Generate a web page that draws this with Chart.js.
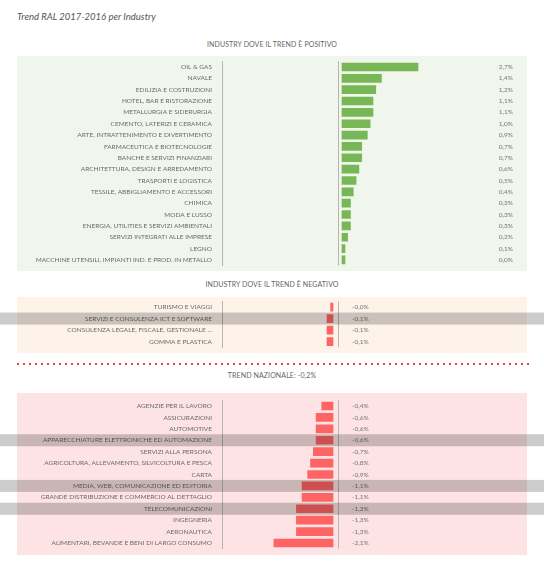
<!DOCTYPE html>
<html>
<head>
<meta charset="utf-8">
<script src="https://cdn.jsdelivr.net/npm/chart.js@4.4.1/dist/chart.umd.min.js"></script>
<style>
  html, body { margin:0; padding:0; background:#fff; }
  body { width:544px; height:574px; position:relative; overflow:hidden; font-family: Lato, "DejaVu Sans", sans-serif; }
  .abs { position:absolute; }
  #title { left:17px; top:11px; font-size:9.5px; font-style:italic; color:#555; }
  .hdr { left:0; width:544px; text-align:center; font-size:7px; color:#666; letter-spacing:0.1px; }
  #dots { left:17px; top:363px; width:512px; height:2px;
          background: repeating-linear-gradient(to right, #e8403c 0 2px, transparent 2px 6px); }
  canvas { position:absolute; left:0; }
</style>
</head>
<body>
<div id="title" class="abs">Trend RAL 2017-2016 per Industry</div>
<div class="abs hdr" style="top:40px">INDUSTRY DOVE IL TREND È POSITIVO</div>
<div class="abs hdr" style="top:280px">INDUSTRY DOVE IL TREND È NEGATIVO</div>
<div id="dots" class="abs"></div>
<div class="abs hdr" style="top:371px">TREND NAZIONALE: -0,2%</div>

<div class="abs" style="left:0;top:56px;width:544px;height:215px"><canvas id="c1"></canvas></div>
<div class="abs" style="left:0;top:297px;width:544px;height:56px"><canvas id="c2"></canvas></div>
<div class="abs" style="left:0;top:393px;width:544px;height:162px"><canvas id="c3"></canvas></div>

<script>
// ---------- DATA ----------
const positiveCategories = [
  "OIL & GAS", "NAVALE", "EDILIZIA E COSTRUZIONI", "HOTEL, BAR E RISTORAZIONE",
  "METALLURGIA E SIDERURGIA", "CEMENTO, LATERIZI E CERAMICA", "ARTE, INTRATTENIMENTO E DIVERTIMENTO",
  "FARMACEUTICA E BIOTECNOLOGIE", "BANCHE E SERVIZI FINANZIARI", "ARCHITETTURA, DESIGN E ARREDAMENTO",
  "TRASPORTI E LOGISTICA", "TESSILE, ABBIGLIAMENTO E ACCESSORI", "CHIMICA", "MODA E LUSSO",
  "ENERGIA, UTILITIES E SERVIZI AMBIENTALI", "SERVIZI INTEGRATI ALLE IMPRESE", "LEGNO",
  "MACCHINE UTENSILI, IMPIANTI IND. E PROD. IN METALLO"
];
const positiveValues = [2.7, 1.4, 1.2, 1.1, 1.1, 1.0, 0.9, 0.7, 0.7, 0.6, 0.5, 0.4, 0.3, 0.3, 0.3, 0.2, 0.1, 0.04];

const slightNegativeCategories = [
  "TURISMO E VIAGGI", "SERVIZI E CONSULENZA ICT E SOFTWARE",
  "CONSULENZA LEGALE, FISCALE, GESTIONALE ...", "GOMMA E PLASTICA"
];
const slightNegativeValues = [-0.04, -0.1, -0.1, -0.1];

const negativeCategories = [
  "AGENZIE PER IL LAVORO", "ASSICURAZIONI", "AUTOMOTIVE", "APPARECCHIATURE ELETTRONICHE ED AUTOMAZIONE",
  "SERVIZI ALLA PERSONA", "AGRICOLTURA, ALLEVAMENTO, SILVICOLTURA E PESCA", "CARTA",
  "MEDIA, WEB, COMUNICAZIONE ED EDITORIA", "GRANDE DISTRIBUZIONE E COMMERCIO AL DETTAGLIO",
  "TELECOMUNICAZIONI", "INGEGNERIA", "AERONAUTICA", "ALIMENTARI, BEVANDE E BENI DI LARGO CONSUMO"
];
const negativeValues = [-0.4, -0.6, -0.6, -0.6, -0.7, -0.8, -0.9, -1.1, -1.1, -1.3, -1.3, -1.3, -2.1];

const highlighted = [
  "SERVIZI E CONSULENZA ICT E SOFTWARE", "APPARECCHIATURE ELETTRONICHE ED AUTOMAZIONE",
  "MEDIA, WEB, COMUNICAZIONE ED EDITORIA", "TELECOMUNICAZIONI"
];

// ---------- helpers ----------
const FONT = "Lato, 'DejaVu Sans', sans-serif";
const fmt = v => v.toFixed(1).replace('.', ',') + '%';

const panelPlugin = {
  id: 'panel',
  beforeDraw(chart, args, opts) {
    const ctx = chart.ctx;
    ctx.save();
    ctx.fillStyle = opts.color;
    ctx.fillRect(17, 0, 510, chart.height);
    ctx.restore();
  }
};
const decoPlugin = {
  id: 'deco',
  afterDatasetsDraw(chart, args, opts) {
    const ctx = chart.ctx, ca = chart.chartArea;
    const xs = chart.scales.x, ys = chart.scales.y;
    ctx.save();
    const lx = Math.round(xs.getPixelForValue(0) + opts.lineOffset) + 0.5;
    ctx.strokeStyle = '#b5b5b5';
    ctx.lineWidth = 1;
    ctx.beginPath(); ctx.moveTo(lx, ca.top); ctx.lineTo(lx, ca.bottom); ctx.stroke();
    ctx.font = "6.5px " + FONT;
    ctx.fillStyle = '#777';
    ctx.textBaseline = 'middle';
    ctx.textAlign = opts.align;
    chart.data.datasets[0].data.forEach((v, i) => {
      ctx.fillText(fmt(v), opts.textX, ys.getPixelForValue(i));
    });
    ctx.restore();
  },
  afterDraw(chart) {
    const ctx = chart.ctx, ys = chart.scales.y;
    ctx.save();
    ctx.fillStyle = 'rgba(0,0,0,0.2)';
    chart.data.labels.forEach((l, i) => {
      if (highlighted.includes(l)) {
        const y = ys.getPixelForValue(i);
        ctx.fillRect(0, y - 6, chart.width, 12);
      }
    });
    ctx.restore();
  }
};

function makeChart(id, labels, values, cfg) {
  return new Chart(document.getElementById(id), {
    type: 'bar',
    data: { labels, datasets: [{ data: values, backgroundColor: cfg.barColor, barThickness: 8, minBarLength: cfg.minBar || 0, borderWidth: 0 }] },
    plugins: [panelPlugin, decoPlugin],
    options: {
      indexAxis: 'y',
      responsive: true, maintainAspectRatio: false, animation: false,
      layout: { autoPadding: false, padding: { left: 0, right: 17, top: cfg.padTop, bottom: cfg.padBottom } },
      plugins: {
        legend: { display: false }, tooltip: { enabled: false },
        panel: { color: cfg.panel },
        deco: { lineOffset: cfg.lineOffset, textX: cfg.textX, align: cfg.align }
      },
      scales: {
        x: { display: false, min: cfg.xmin, max: cfg.xmax },
        y: {
          grid: { display: false, drawTicks: true, tickLength: 10 },
          border: { display: true, color: '#b5b5b5', width: 1 },
          ticks: { padding: 0, color: '#6a6a6a', font: { family: FONT, size: 6.5 }, autoSkip: false },
          afterFit(s) { s.width = 222; s.paddingTop = 0; s.paddingBottom = 0; }
        }
      }
    }
  });
}

const PX = 28.15; // pixels per 1% in main scales
makeChart('c1', positiveCategories, positiveValues, {
  barColor: '#77b756', panel: '#f1f6ec', padTop: 5.3, padBottom: 5.4,
  xmin: -(342 - 222) / PX, xmax: (527 - 342) / PX, lineOffset: -4.5, textX: 513, align: 'right', minBar: 3
});
const PX2 = 60;
makeChart('c2', slightNegativeCategories, slightNegativeValues, {
  barColor: '#ff6464', panel: '#fdf3e9', padTop: 4.3, padBottom: 5.7,
  xmin: -(333 - 222) / PX2, xmax: (527 - 333) / PX2, lineOffset: 4.5, textX: 352, align: 'left'
});
makeChart('c3', negativeCategories, negativeValues, {
  barColor: '#ff6464', panel: '#fde3e3', padTop: 7.3, padBottom: 6.3,
  xmin: -(333 - 222) / PX, xmax: (527 - 333) / PX, lineOffset: 4.5, textX: 352, align: 'left'
});
</script>
</body>
</html>
